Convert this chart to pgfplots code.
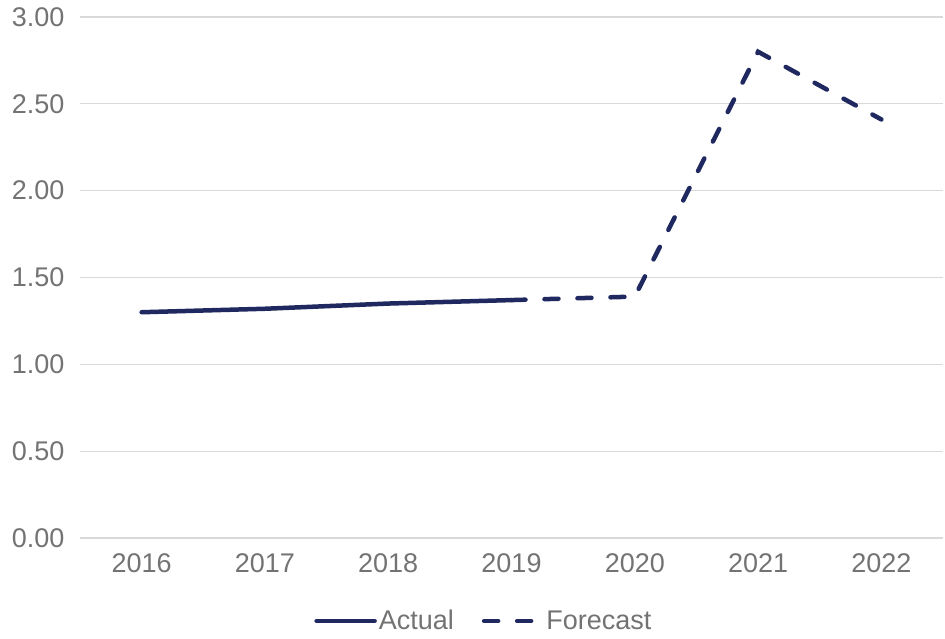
\documentclass[border=0pt]{standalone}
\usepackage{pgfplots}
\pgfplotsset{compat=1.18}
\usepackage{fontspec}
\setmainfont{Liberation Sans}
\definecolor{navy}{HTML}{1F285F}
\definecolor{txt}{HTML}{737373}
\definecolor{gridc}{HTML}{D9D9D9}
\begin{document}
\begin{tikzpicture}
\begin{axis}[
  name=ax,
  scale only axis,
  width=863bp, height=521bp,
  xmin=-0.5, xmax=6.5, ymin=0, ymax=3,
  axis line style={draw=none},
  ytick={0,0.5,1,1.5,2,2.5,3},
  ymajorgrids=true,
  xmajorgrids=false,
  major grid style={draw=gridc, line width=1.3bp},
  xtick={0,1,2,3,4,5,6},
  xticklabels={2016,2017,2018,2019,2020,2021,2022},
  tick style={draw=none},
  major tick length=0pt,
  /pgf/number format/assume math mode=true,
  /pgf/number format/fixed,
  /pgf/number format/fixed zerofill,
  /pgf/number format/precision=2,
  ticklabel style={font=\fontsize{27bp}{32bp}\selectfont, text=txt},
  yticklabel style={xshift=-12bp},
  xticklabel style={yshift=-12bp},
  legend columns=2,
  legend style={at={(0.468,-0.159)}, anchor=center, draw=none, fill=none,
    font=\fontsize{27bp}{32bp}\selectfont, text=txt,
    /tikz/every even column/.append style={column sep=26bp}},
  legend cell align=left,
  legend image code/.code={\draw[#1] (0bp,0bp) -- (58bp,0bp);},
  clip=false,
]
\addplot[navy, line width=4.5bp, line cap=round] coordinates {(0,1.30) (1,1.32) (2,1.35) (3,1.37)};
\addlegendentry{Actual}
\addplot[navy, line width=4.5bp, line cap=round, dash pattern=on 14bp off 19bp] coordinates {(3,1.37) (4,1.39) (5,2.80) (6,2.41)};
\addlegendentry{Forecast}
\end{axis}
\pgfresetboundingbox
\useasboundingbox ([xshift=-80bp,yshift=-100bp]ax.south west) rectangle ([xshift=2bp,yshift=17bp]ax.north east);
\end{tikzpicture}
\end{document}
